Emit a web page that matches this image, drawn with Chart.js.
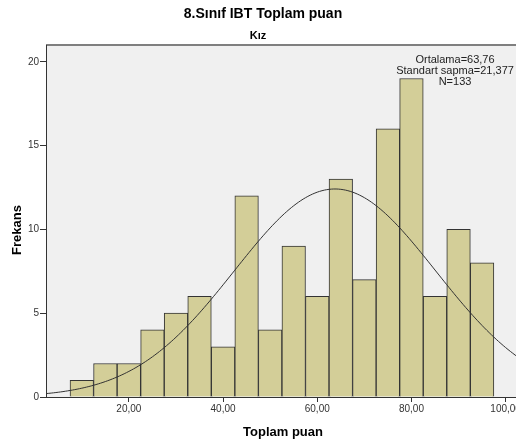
<!DOCTYPE html>
<html>
<head>
<meta charset="utf-8">
<script src="https://cdn.jsdelivr.net/npm/chart.js@4/dist/chart.umd.min.js"></script>
<style>
  html, body { margin: 0; padding: 0; background: #fff; overflow: hidden; }
  #wrap { width: 516px; height: 445px; }
</style>
</head>
<body>
<div id="wrap"><canvas id="hist" width="516" height="445"></canvas></div>
<script>
// histogram bins (centres) and counts
var binCenters = [10, 15, 20, 25, 30, 35, 40, 45, 50, 55, 60, 65, 70, 75, 80, 85, 90, 95];
var counts     = [1, 2, 2, 4, 5, 6, 3, 12, 4, 9, 6, 13, 7, 16, 19, 6, 10, 8];
var xTicks = [20, 40, 60, 80, 100];
var yTicks = [0, 5, 10, 15, 20];
var mean = 63.76, sd = 21.377, n = 133, binWidth = 5;
var statLines = ['Ortalama=63,76', 'Standart sapma=21,377', 'N=133'];

var barData = [];
for (var i = 0; i < binCenters.length; i++) {
    barData.push({x: binCenters[i], y: counts[i]});
}
// fitted normal curve (SPSS overlay) from the mean / sd printed on the chart
var curve = [];
for (var x = 0; x <= 105; x += 0.5) {
    var z = (x - mean) / sd;
    curve.push({x: x, y: n * binWidth * Math.exp(-0.5 * z * z) / (sd * Math.sqrt(2 * Math.PI))});
}

var FONT = '"Liberation Sans", Arial, sans-serif';

var frame = {
    id: 'frame',
    beforeDraw: function(chart) {
        var c = chart.ctx, a = chart.chartArea;
        c.save();
        c.fillStyle = '#f0f0f0';
        c.fillRect(a.left, a.top, a.right - a.left, a.bottom - a.top);
        c.strokeStyle = '#7f7f7f';
        c.lineWidth = 2;
        c.beginPath();
        c.moveTo(a.left, a.top);
        c.lineTo(a.right, a.top);
        c.stroke();
        c.restore();
    },
    afterDraw: function(chart) {
        var c = chart.ctx;
        c.save();
        c.fillStyle = '#000';
        c.textAlign = 'center';
        c.textBaseline = 'middle';
        c.font = 'bold 14px ' + FONT;
        c.fillText('8.Sınıf IBT Toplam puan', 263, 14);
        c.font = 'bold 11px ' + FONT;
        c.fillText('Kız', 258, 36);
        c.font = 'bold 13px ' + FONT;
        c.fillText('Toplam puan', 283, 432);
        c.translate(17, 230);
        c.rotate(-Math.PI / 2);
        c.fillText('Frekans', 0, 0);
        c.restore();

        c.save();
        c.fillStyle = '#222';
        c.font = '11px ' + FONT;
        c.textAlign = 'center';
        c.textBaseline = 'middle';
        for (var k = 0; k < statLines.length; k++) {
            c.fillText(statLines[k], 455, 60 + k * 11);
        }
        c.restore();
    }
};

new Chart(document.getElementById('hist'), {
    type: 'bar',
    data: {
        datasets: [
            {
                type: 'line',
                data: curve,
                borderColor: '#333',
                borderWidth: 1,
                pointRadius: 0,
                tension: 0,
                order: 0
            },
            {
                type: 'bar',
                data: barData,
                backgroundColor: '#d3ce98',
                borderColor: '#333',
                borderWidth: 1,
                barPercentage: 1,
                categoryPercentage: 1,
                order: 1
            }
        ]
    },
    options: {
        responsive: false,
        animation: false,
        layout: {padding: {top: 45, left: 0, right: 0, bottom: 0}},
        plugins: {legend: {display: false}, tooltip: {enabled: false}},
        scales: {
            x: {
                type: 'linear',
                offset: false,
                min: 2.4,
                max: 102.2,
                afterBuildTicks: function(s) { s.ticks = xTicks.map(function(v) { return {value: v}; }); },
                afterFit: function(s) { s.height = 48; s.paddingLeft = 0; s.paddingRight = 0; },
                grid: {drawOnChartArea: false, offset: false, tickLength: 5, color: '#333'},
                border: {color: '#333'},
                ticks: {
                    color: '#333', padding: 1,
                    font: {family: FONT, size: 10},
                    callback: function(v) { return v.toFixed(2).replace('.', ','); }
                }
            },
            y: {
                min: 0,
                max: 21,
                afterBuildTicks: function(s) { s.ticks = yTicks.map(function(v) { return {value: v}; }); },
                afterFit: function(s) { s.width = 46; },
                grid: {drawOnChartArea: false, tickLength: 6, color: '#333'},
                border: {color: '#333'},
                ticks: {color: '#333', padding: 1, font: {family: FONT, size: 10}}
            }
        }
    },
    plugins: [frame]
});
</script>
</body>
</html>
